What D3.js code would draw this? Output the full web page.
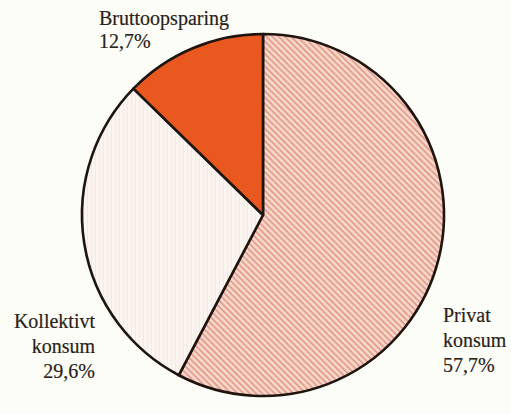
<!DOCTYPE html>
<html><head><meta charset="utf-8">
<script src="https://cdn.jsdelivr.net/npm/d3@7"></script>
<style>html,body{margin:0;padding:0;background:#fdfdf7;}svg{display:block;}</style>
</head><body>
<script>
const categories = ["Privat konsum", "Kollektivt konsum", "Bruttoopsparing"];
const values = [57.7, 29.6, 12.7];
const valueLabels = ["57,7%", "29,6%", "12,7%"];
const labelLines = [["Privat", "konsum", "57,7%"], ["Kollektivt", "konsum", "29,6%"], ["Bruttoopsparing", "12,7%"]];

const W = 511, H = 414;
const cx = 263, cy = 215, R = 181;
const svg = d3.select("body").append("svg").attr("width", W).attr("height", H);
svg.append("rect").attr("width", W).attr("height", H).attr("fill", "#fdfdf7");

const defs = svg.append("defs");
const pat = defs.append("pattern").attr("id", "hatch").attr("patternUnits", "userSpaceOnUse")
  .attr("width", 4.4).attr("height", 4.4).attr("patternTransform", "rotate(-45)");
pat.append("rect").attr("width", 4.4).attr("height", 4.4).attr("fill", "#f8d6c9");
pat.append("rect").attr("width", 1.7).attr("height", 4.4).attr("fill", "#e29d8c");

const pat2 = defs.append("pattern").attr("id", "light").attr("patternUnits", "userSpaceOnUse")
  .attr("width", 4).attr("height", 4);
pat2.append("rect").attr("width", 4).attr("height", 4).attr("fill", "#fcf4ee");
pat2.append("rect").attr("width", 0.8).attr("height", 4).attr("fill", "#f8e6de");

const fills = ["url(#hatch)", "url(#light)", "#e9581f"];

const pie = d3.pie().sort(null).value(d => d)(values);
const arc = d3.arc().innerRadius(0).outerRadius(R);
const g = svg.append("g").attr("transform", `translate(${cx},${cy})`);
g.selectAll("path").data(pie).join("path")
  .attr("d", arc).attr("fill", (d, i) => fills[i])
  .attr("stroke", "#1e1410").attr("stroke-width", 2.6).attr("stroke-linejoin", "round");

const labelPos = [
  {x: 443, y: 322, anchor: "start", dy: 25},
  {x: 95, y: 328, anchor: "end", dy: 25},
  {x: 99, y: 25, anchor: "start", dy: 23}
];
labelLines.forEach((lines, i) => {
  const p = labelPos[i];
  const t = svg.append("text").attr("x", p.x).attr("y", p.y)
    .attr("text-anchor", p.anchor)
    .attr("font-family", "'Liberation Serif', 'Times New Roman', serif")
    .attr("font-size", 20).attr("fill", "#2a1f1a")
    .attr("stroke", "#2a1f1a").attr("stroke-width", 0.2);
  lines.forEach((l, k) => {
    t.append("tspan").attr("x", p.x).attr("dy", k === 0 ? 0 : p.dy).text(l);
  });
});
</script>
</body></html>
